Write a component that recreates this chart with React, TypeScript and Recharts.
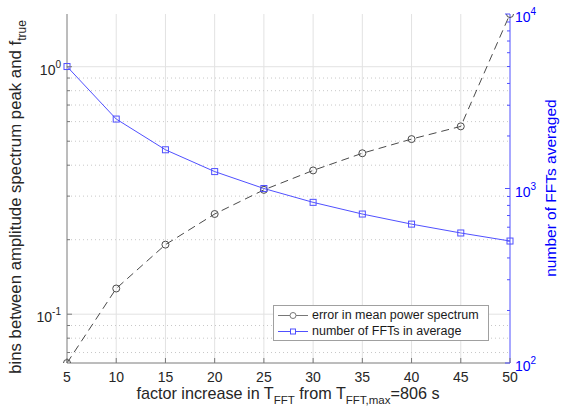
import React from "react";
import {
  ComposedChart,
  Line,
  XAxis,
  YAxis,
  ReferenceLine,
  Legend,
} from "recharts";

document.body.style.margin = "0";

const FONT = '"Liberation Sans", Arial, Helvetica, sans-serif';
const AXIS = "#7a7a7a";
const TEXT = "#262626";
const BLUE = "#0000ff";
const BLUE_LINE = "#5050ff";
const ERR_LINE = "#4a4a4a";
const GRID = "#e2e2e2";
const MINOR_GRID = "#c8c8c8";

const factors = [5, 10, 15, 20, 25, 30, 35, 40, 45, 50];
const errorBins = [0.0635, 0.127, 0.191, 0.254, 0.318, 0.381, 0.447, 0.51, 0.574, 1.633];
const fftCounts = [5000, 2500, 1667, 1250, 1000, 833, 714, 625, 556, 500];

const xTicks = [5, 10, 15, 20, 25, 30, 35, 40, 45, 50];
const leftTicks = [0.07, 0.08, 0.09, 0.1, 0.2, 0.3, 0.4, 0.5, 0.6, 0.7, 0.8, 0.9, 1];
const rightTicks = [
  100, 200, 300, 400, 500, 600, 700, 800, 900,
  1000, 2000, 3000, 4000, 5000, 6000, 7000, 8000, 9000, 10000,
];
const leftDomain = [0.0635, 1.633];
const rightDomain = [100, 10000];

const data = factors.map((f, i) => ({ f, err: errorBins[i], n: fftCounts[i] }));

const isDecade = (v: number) => Math.abs(Math.log10(v) - Math.round(Math.log10(v))) < 1e-9;
const GAP = 6;

function LeftTick({ x, y, payload }: any) {
  const v = payload.value;
  const spine = x + GAP;
  const major = isDecade(v);
  return (
    <g>
      <line x1={spine} x2={spine + (major ? 5 : 3)} y1={y} y2={y} stroke={AXIS} />
      {major && (
        <text x={x} y={y + 8} textAnchor="end" fontFamily={FONT} fontSize={14} fill={TEXT}>
          10<tspan dy={-7} fontSize={10}>{Math.round(Math.log10(v))}</tspan>
        </text>
      )}
    </g>
  );
}

function RightTick({ x, y, payload }: any) {
  const v = payload.value;
  const spine = x - 5;
  const major = isDecade(v);
  return (
    <g>
      <line x1={spine} x2={spine - (major ? 5 : 3)} y1={y} y2={y} stroke={BLUE_LINE} />
      {major && (
        <text x={x} y={y + 8} textAnchor="start" fontFamily={FONT} fontSize={14} fill={BLUE}>
          10<tspan dy={-7} fontSize={10}>{Math.round(Math.log10(v))}</tspan>
        </text>
      )}
    </g>
  );
}

function BottomTick({ x, y, payload }: any) {
  const spine = y;
  return (
    <g>
      <line x1={x} x2={x} y1={spine} y2={spine - 5} stroke={AXIS} />
      <text x={x} y={spine + 19} textAnchor="middle" fontFamily={FONT} fontSize={14} fill={TEXT}>
        {payload.value}
      </text>
    </g>
  );
}

function TopTick({ x, y }: any) {
  return <line x1={x} x2={x} y1={y} y2={y + 5} stroke={AXIS} />;
}

function XTitle() {
  return (
    <text x={288} y={399} textAnchor="middle" fontFamily={FONT} fontSize={16.2} fill={TEXT}>
      factor increase in T
      <tspan dy={5} fontSize={11.5}>FFT</tspan>
      <tspan dy={-5}> from T</tspan>
      <tspan dy={5} fontSize={11.5}>FFT,max</tspan>
      <tspan dy={-5}>=806 s</tspan>
    </text>
  );
}

function LeftTitle() {
  return (
    <text
      x={21}
      y={197}
      transform="rotate(-90 21 197)"
      textAnchor="middle"
      fontFamily={FONT}
      fontSize={16.8}
      fill={TEXT}
    >
      bins between amplitude spectrum peak and f
      <tspan dy={5} fontSize={12}>true</tspan>
    </text>
  );
}

function RightTitle() {
  return (
    <text
      x={556}
      y={188}
      transform="rotate(-90 556 188)"
      textAnchor="middle"
      fontFamily={FONT}
      fontSize={15.5}
      fill={BLUE}
    >
      number of FFTs averaged
    </text>
  );
}

function Square({ cx, cy, index }: any) {
  return (
    <rect key={`sq-${index}`} x={cx - 3} y={cy - 3} width={6} height={6} fill="none" stroke={BLUE_LINE} />
  );
}

function LegendBox({ payload }: any) {
  return (
    <div
      style={{
        width: 216,
        boxSizing: "border-box",
        border: "1px solid #a0a0a0",
        background: "#fff",
        padding: "1px 4px",
        fontFamily: FONT,
        fontSize: 12.5,
        lineHeight: "16px",
        color: "#1a1a1a",
      }}
    >
      {(payload || []).map((p: any) => {
        const isErr = p.dataKey === "err";
        const c = isErr ? ERR_LINE : BLUE_LINE;
        return (
          <div key={p.dataKey} style={{ display: "flex", alignItems: "center", height: 16 }}>
            <svg width={30} height={16} style={{ marginRight: 4 }}>
              <line x1={0} x2={30} y1={8.5} y2={8.5} stroke={isErr ? "#777" : c} />
              {isErr ? (
                <circle cx={15} cy={8.5} r={3} fill="#fff" stroke="#777" />
              ) : (
                <rect x={12.5} y={6} width={5} height={5} fill="#fff" stroke={c} />
              )}
            </svg>
            <span>{p.value}</span>
          </div>
        );
      })}
    </div>
  );
}

const minorLeft = leftTicks.filter((v) => !isDecade(v));
const majorLeft = leftTicks.filter((v) => isDecade(v));
const innerX = xTicks.slice(1, -1);

export default function App() {
  return (
    <ComposedChart
      width={561}
      height={410}
      data={data}
      margin={{ top: 14, right: 0, bottom: 0, left: 0 }}
    >
      <XAxis
        dataKey="f"
        type="number"
        domain={[5, 50]}
        ticks={xTicks}
        interval={0}
        height={47}
        tickSize={0}
        tickMargin={0}
        tickLine={false}
        axisLine={{ stroke: AXIS }}
        tick={<BottomTick />}
        label={<XTitle />}
      />
      <XAxis
        xAxisId="top"
        orientation="top"
        type="number"
        domain={[5, 50]}
        ticks={xTicks}
        interval={0}
        height={0}
        tickSize={0}
        tickMargin={0}
        tickLine={false}
        axisLine={{ stroke: AXIS }}
        tick={<TopTick />}
        allowDataOverflow
      />
      <YAxis
        yAxisId="left"
        scale="log"
        type="number"
        domain={leftDomain}
        allowDataOverflow
        ticks={leftTicks}
        interval={0}
        width={67}
        tickSize={0}
        tickMargin={GAP}
        tickLine={false}
        axisLine={{ stroke: AXIS }}
        tick={<LeftTick />}
        label={<LeftTitle />}
      />
      <YAxis
        yAxisId="right"
        orientation="right"
        scale="log"
        type="number"
        domain={rightDomain}
        allowDataOverflow
        ticks={rightTicks}
        interval={0}
        width={51}
        tickSize={0}
        tickMargin={5}
        tickLine={false}
        axisLine={{ stroke: BLUE_LINE }}
        tick={<RightTick />}
        label={<RightTitle />}
      />
      {innerX.map((v) => (
        <ReferenceLine key={`vx-${v}`} x={v} yAxisId="left" stroke={GRID} />
      ))}
      {minorLeft.map((v) => (
        <ReferenceLine key={`mn-${v}`} y={v} yAxisId="left" stroke={MINOR_GRID} strokeDasharray="1 3" />
      ))}
      {majorLeft.map((v) => (
        <ReferenceLine key={`mj-${v}`} y={v} yAxisId="left" stroke={GRID} />
      ))}
      <Line
        yAxisId="left"
        dataKey="err"
        name="error in mean power spectrum"
        stroke={ERR_LINE}
        strokeWidth={1}
        strokeDasharray="8 5"
        dot={{ r: 3.5, stroke: ERR_LINE, fill: "none", strokeDasharray: "none" }}
        activeDot={false}
        isAnimationActive={false}
      />
      <Line
        yAxisId="right"
        dataKey="n"
        name="number of FFTs in average"
        stroke={BLUE_LINE}
        strokeWidth={1}
        dot={<Square />}
        activeDot={false}
        isAnimationActive={false}
      />
      <Legend
        layout="horizontal"
        align="center"
        verticalAlign="middle"
        content={<LegendBox />}
        wrapperStyle={{ position: "absolute", left: 273, top: 305, width: 216 }}
      />
    </ComposedChart>
  );
}
